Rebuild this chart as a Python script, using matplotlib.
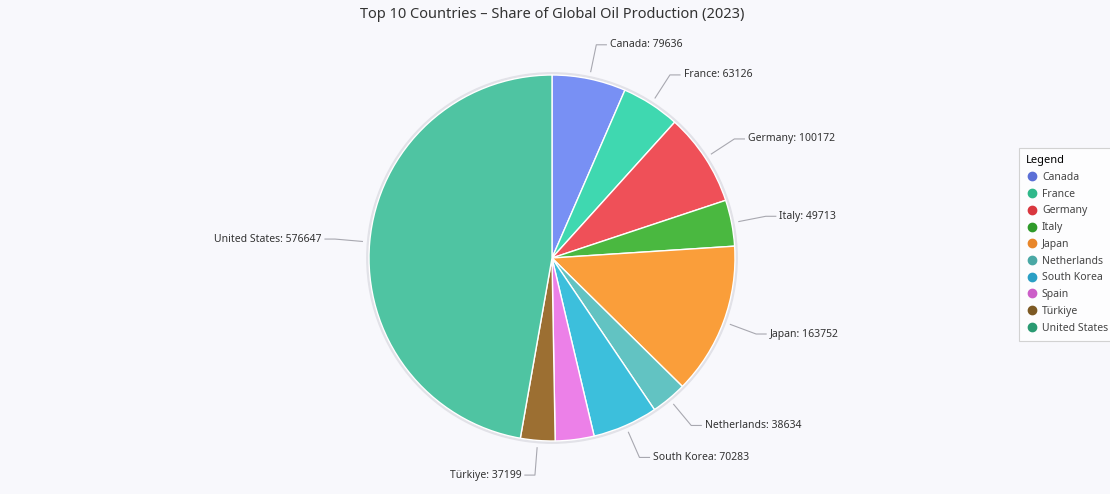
import numpy as np
import matplotlib.pyplot as plt
from matplotlib.lines import Line2D
from matplotlib.patches import Circle

plt.rcParams['font.family'] = ['Noto Sans', 'DejaVu Sans']

# data (Spain has no label)
countries = ['Canada', 'France', 'Germany', 'Italy', 'Japan', 'Netherlands',
             'South Korea', 'Spain', 'Türkiye', 'United States']
production = [79636, 63126, 100172, 49713, 163752, 38634, 70283, 41800, 37199, 576647]
show_label = [True, True, True, True, True, True, True, False, True, True]

pie_colors = ['#7890f4', '#3fd8b0', '#ef5058', '#4ab840', '#fa9e3a', '#62c3c2',
              '#3cbfdc', '#ec80e8', '#9c6f32', '#4fc4a2']
legend_colors = ['#5b6fd6', '#2fb88a', '#d9373f', '#2f9a2a', '#e8862a', '#4aa8a5',
                 '#2a9fc5', '#cc5ec8', '#7d5a24', '#2a9a72']

W, H = 1110, 494
fig = plt.figure(figsize=(W / 100, H / 100), dpi=100)
fig.patch.set_facecolor('#f8f8fc')

R_px = 183
half = 1.35 * R_px
cx, cy = 552, H - 258
ax = fig.add_axes([(cx - half) / W, (cy - half) / H, 2 * half / W, 2 * half / H])

# faint shadow ring behind the pie
ax.add_patch(Circle((0, 0), 1.012, color='#e2e2e8', zorder=0))

wedges, _ = ax.pie(production, colors=pie_colors, startangle=90, counterclock=False,
                   wedgeprops=dict(edgecolor='white', linewidth=1.0), radius=1.0)
for w in wedges:
    w.set_zorder(1)

# pie() sets its own limits, so fix them afterwards
ax.set_xlim(-1.35, 1.35)
ax.set_ylim(-1.35, 1.35)
ax.set_aspect('equal')
ax.axis('off')

# leader lines and labels
for w, name, val, show in zip(wedges, countries, production, show_label):
    if not show:
        continue
    ang = np.deg2rad((w.theta1 + w.theta2) / 2)
    x0, y0 = 1.04 * np.cos(ang), 1.04 * np.sin(ang)
    x1, y1 = 1.19 * np.cos(ang), 1.19 * np.sin(ang)
    side = 1 if x1 >= 0 else -1
    x2 = x1 + side * 0.055
    ax.plot([x0, x1, x2], [y0, y1, y1], color='#a8a8b0', lw=0.8,
            clip_on=False, zorder=2)
    ax.text(x2 + side * 0.02, y1, f'{name}: {val}', fontsize=7.5, color='#333333',
            ha='left' if side > 0 else 'right', va='center', clip_on=False)

fig.text(cx / W, 1 - 14 / H, 'Top 10 Countries – Share of Global Oil Production (2023)',
         ha='center', va='center', fontsize=10.5, color='#333333')

handles = [Line2D([], [], marker='o', linestyle='none', markersize=6,
                  markerfacecolor=c, markeredgecolor=c) for c in legend_colors]
leg = fig.legend(handles, countries, title='Legend', loc='upper left',
                 bbox_to_anchor=(1019 / W, 1 - 148 / H), borderaxespad=0,
                 fontsize=7.5, title_fontproperties={'weight': 'bold', 'size': 8},
                 frameon=True, fancybox=False, edgecolor='#c8c8c8',
                 handletextpad=0.5, labelspacing=0.55, borderpad=0.7,
                 handlelength=1.0, alignment='left')
leg.get_frame().set_linewidth(0.8)
leg.get_frame().set_facecolor('white')
for t in leg.get_texts():
    t.set_color('#444444')

fig.savefig('out.png', dpi=100, facecolor=fig.get_facecolor())
